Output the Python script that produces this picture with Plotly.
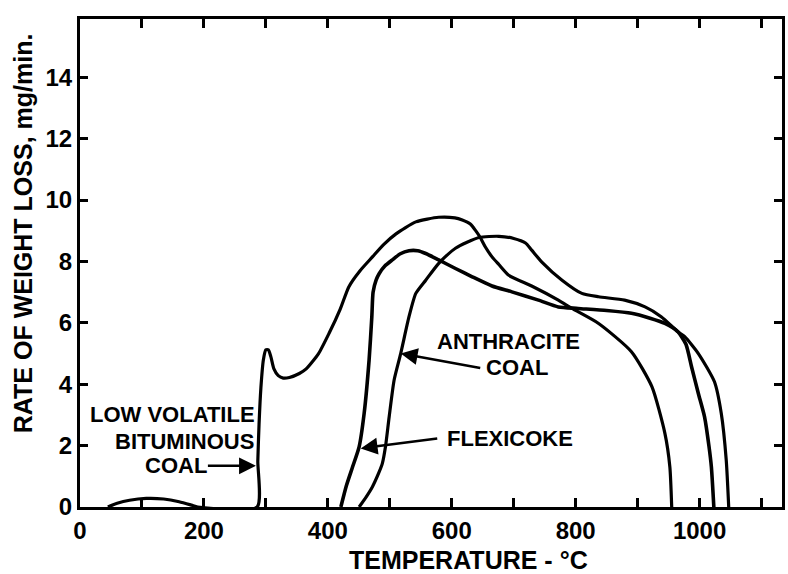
import plotly.graph_objects as go

# ---- data ----
bit_x = [45, 60, 80, 107, 135, 160, 180, 190, 286, 287, 289, 292, 296, 300, 304, 308, 313, 320,
         328, 338, 354, 365, 385, 402, 420, 434, 452, 472, 490, 510, 542, 579, 605, 617, 630,
         638, 646, 654, 665, 676, 692, 729, 772, 794, 837, 890, 923, 944, 952, 955]
bit_y = [0, 0.12, 0.22, 0.28, 0.26, 0.17, 0.06, 0, 0, 1.5, 2.7, 3.9, 4.8, 5.12, 5.12, 4.9, 4.5,
         4.28, 4.2, 4.22, 4.35, 4.5, 5.0, 5.66, 6.45, 7.18, 7.7, 8.15, 8.55, 8.9, 9.29, 9.44,
         9.42, 9.35, 9.22, 9.02, 8.78, 8.48, 8.15, 7.9, 7.55, 7.2, 6.74, 6.47, 5.98, 5.06, 3.92,
         2.4, 1.31, 0]

flx_x = [421, 430, 440, 450.5, 458.6, 466.6, 471, 473, 478, 483, 492, 504, 517, 531, 545, 558,
         579, 606, 633, 665, 697, 740, 772, 804, 850, 890, 920, 944, 965, 978, 987, 998, 1008,
         1015, 1019, 1023]
flx_y = [0, 0.7, 1.31, 1.96, 3.05, 4.79, 6.2, 7.0, 7.4, 7.61, 7.85, 8.05, 8.25, 8.35, 8.35, 8.26,
         8.05, 7.77, 7.5, 7.2, 7.01, 6.74, 6.52, 6.47, 6.4, 6.31, 6.15, 5.98, 5.71, 5.3, 4.57,
         3.7, 2.94, 2.0, 1.31, 0]

ant_x = [450.5, 462, 472, 482, 488, 493, 499, 507, 517.6, 531, 542, 558, 579, 606, 644, 676, 700,
         719, 729, 745, 778, 810, 837, 879, 912, 938, 965, 976, 998, 1024, 1035, 1043, 1047]
ant_y = [0, 0.33, 0.66, 1.1, 1.42, 1.96, 2.94, 4.14, 5.0, 6.2, 6.96, 7.39, 7.94, 8.43, 8.78,
         8.82, 8.75, 8.6, 8.37, 7.99, 7.39, 6.96, 6.85, 6.74, 6.52, 6.2, 5.71, 5.55, 5.0, 4.08,
         3.05, 1.53, 0]

x_tickvals = list(range(0, 1101, 100))
x_ticktext = ["0", "", "200", "", "400", "", "600", "", "800", "", "1000", ""]
y_tickvals = [0, 2, 4, 6, 8, 10, 12, 14]
y_ticktext = ["0", "2", "4", "6", "8", "10", "12", "14"]

FONT = "Liberation Sans"

fig = go.Figure()
line = dict(color="black", width=3.2, shape="spline", smoothing=0.6)
fig.add_trace(go.Scatter(x=bit_x, y=bit_y, mode="lines", line=line, name="Low volatile bituminous coal"))
fig.add_trace(go.Scatter(x=flx_x, y=flx_y, mode="lines", line=dict(line, width=3.6), name="Flexicoke"))
fig.add_trace(go.Scatter(x=ant_x, y=ant_y, mode="lines", line=line, name="Anthracite coal"))

tfont = dict(family=FONT, size=22, color="black")
ann = []
# text labels
for txt, x, y in [("LOW VOLATILE", 149.6, 3.0), ("BITUMINOUS", 168, 2.13), ("COAL", 155, 1.34),
                  ("ANTHRACITE", 692, 5.38), ("COAL", 705, 4.53), ("FLEXICOKE", 693.5, 2.24)]:
    ann.append(dict(text="<b>%s</b>" % txt, x=x, y=y, xref="x", yref="y", showarrow=False,
                    font=tfont, xanchor="center", yanchor="middle"))
# arrows (tip x,y ; tail ax,ay)
for x, y, ax, ay in [(284, 1.34, 204, 1.34), (517.6, 5.0, 648.4, 4.52), (453, 1.91, 579, 2.24)]:
    ann.append(dict(text="", x=x, y=y, ax=ax, ay=ay, xref="x", yref="y", axref="x", ayref="y",
                    showarrow=True, arrowhead=2, arrowsize=1.35, arrowwidth=2.5, arrowcolor="black",
                    standoff=0, startstandoff=0))
# axis titles
ann.append(dict(text="<b>TEMPERATURE - °C</b>", x=0.553, y=-0.108, xref="paper", yref="paper",
                showarrow=False, font=dict(family=FONT, size=25, color="black"),
                xanchor="center", yanchor="middle"))
ann.append(dict(text="<b>RATE OF WEIGHT LOSS, mg/min.</b>", x=-0.082, y=0.562, xref="paper",
                yref="paper", showarrow=False, textangle=-90,
                font=dict(family=FONT, size=25, color="black"), xanchor="center", yanchor="middle"))

axis_common = dict(showline=True, linewidth=3, linecolor="black", mirror="allticks",
                   ticks="inside", tickwidth=2.5, tickcolor="black", showgrid=False,
                   zeroline=False, tickfont=dict(family=FONT, size=24, color="black"))

fig.update_layout(
    width=788, height=574,
    margin=dict(l=80, r=3, t=19, b=67),
    paper_bgcolor="white", plot_bgcolor="white",
    showlegend=False,
    annotations=ann,
    xaxis=dict(range=[0, 1133], tickmode="array", tickvals=x_tickvals,
               ticktext=["<b>%s</b>" % t if t else "" for t in x_ticktext], ticklen=9,
               **axis_common),
    yaxis=dict(range=[0, 15.9], tickmode="array", tickvals=y_tickvals,
               ticktext=["<b>%s</b>" % t for t in y_ticktext], ticklen=8, **axis_common),
)

fig.write_html("out.html")
